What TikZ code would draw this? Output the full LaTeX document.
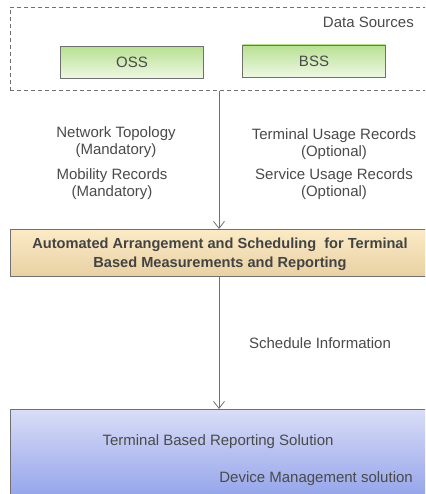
\documentclass[tikz,border=0pt]{standalone}
\usepackage{fontspec}
\setmainfont{Liberation Sans}
\usetikzlibrary{arrows.meta}
\definecolor{txt}{HTML}{4A4A4A}
\definecolor{lin}{HTML}{707070}
\definecolor{gtop}{HTML}{B8E092}
\definecolor{gbot}{HTML}{EEF8E4}
\definecolor{ytop}{HTML}{FCEAC6}
\definecolor{ymid}{HTML}{F6EDD8}
\definecolor{ybot}{HTML}{E8D2A4}
\definecolor{btop}{HTML}{D9DDF7}
\definecolor{bbot}{HTML}{8A9CE8}
\begin{document}
\begin{tikzpicture}[x=1pt,y=-1pt,
  lbl/.style={font=\fontsize{15}{17.5}\selectfont, text=txt, align=center, inner sep=0pt},
  greenbox/.style={draw=lin, line width=0.8pt, top color=gtop, bottom color=gbot, minimum width=143pt, minimum height=32pt, inner sep=0pt, font=\fontsize{15}{17}\selectfont, text=txt},
  conn/.style={draw=lin, line width=0.8pt, -{Straight Barb[length=7pt,width=11pt]}}]
\useasboundingbox (0,0) rectangle (425,494);
\clip (0,0) rectangle (425,494);
% data sources
\node[draw=lin, dash pattern=on 4pt off 3pt, line width=0.7pt, anchor=north west, minimum width=440pt, minimum height=83pt, inner sep=0pt] (ds) at (10,7) {};
\node[lbl, anchor=east] (dstitle) at (414,22) {Data Sources};
\node[greenbox] (oss) at (132,62.5) {OSS};
\node[greenbox] (bss) at (314,61) {BSS};
% labels
\node[lbl] (nt) at (116,142) {Network Topology\\(Mandatory)};
\node[lbl] (mr) at (112,184) {Mobility Records\\(Mandatory)};
\node[lbl] (tu) at (334,144) {Terminal Usage Records\\(Optional)};
\node[lbl] (su) at (334,184) {Service Usage Records\\(Optional)};
% yellow
\node[draw=lin, line width=0.8pt, anchor=north west, minimum width=440pt, minimum height=47pt, inner sep=0pt, top color=ytop, middle color=ymid, bottom color=ybot] (yel) at (10,229) {};
\node[lbl, text=txt!90!black, font=\bfseries\fontsize{14.6}{19}\selectfont] (yt) at (220,254) {Automated Arrangement and Scheduling\ \ for Terminal\\Based Measurements and Reporting};
\node[lbl] (si) at (320,343) {Schedule Information};
% blue
\node[draw=lin, line width=0.8pt, anchor=north west, minimum width=440pt, minimum height=100pt, inner sep=0pt, top color=btop, bottom color=bbot] (blu) at (10,409) {};
\node[lbl] (tb) at (218,442) {Terminal Based Reporting Solution};
\node[lbl, anchor=east] (dm) at (413,479) {Device Management solution};
% connectors
\coordinate (axis) at (219,0);
\draw[conn] (ds.south -| axis) -- (yel.north -| axis);
\draw[conn] (yel.south -| axis) -- (blu.north -| axis);
\end{tikzpicture}
\end{document}
